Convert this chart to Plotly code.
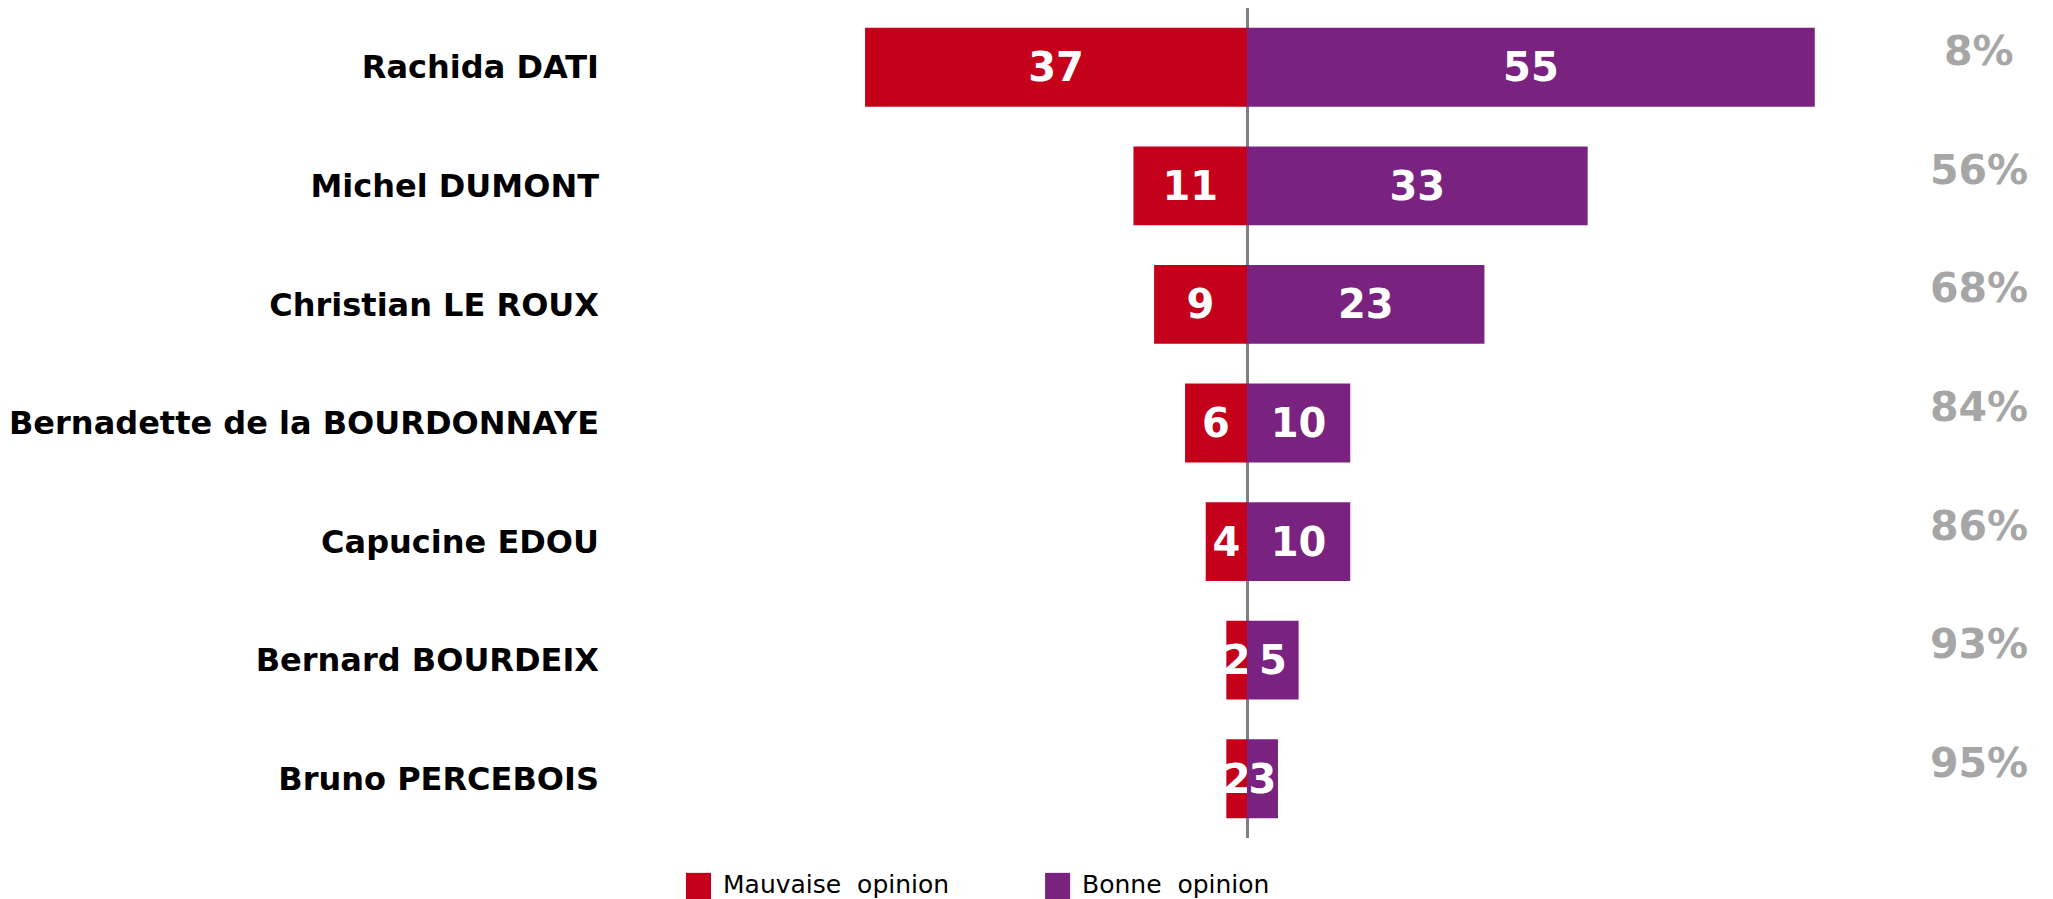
import plotly.graph_objects as go

candidates = ["Rachida DATI", "Michel DUMONT", "Christian LE ROUX",
              "Bernadette de la BOURDONNAYE", "Capucine EDOU",
              "Bernard BOURDEIX", "Bruno PERCEBOIS"]
mauvaise = [37, 11, 9, 6, 4, 2, 2]
bonne = [55, 33, 23, 10, 10, 5, 3]
ne_connait_pas = ["8%", "56%", "68%", "84%", "86%", "93%", "95%"]

RED = "#C5001A"
PURPLE = "#7A2280"
GREY = "#A6A6A6"
FONT = "DejaVu Sans"

fig = go.Figure()
fig.add_trace(go.Bar(
    name="Mauvaise opinion", y=candidates, x=[-v for v in mauvaise],
    orientation="h", marker=dict(color=RED, line=dict(width=0)),
    text=[str(v) for v in mauvaise], textposition="inside",
    insidetextanchor="middle", constraintext="none", textangle=0,
    textfont=dict(family=FONT, size=40, color="white", weight="bold"),
    showlegend=False, hoverinfo="skip"))
fig.add_trace(go.Bar(
    name="Bonne opinion", y=candidates, x=bonne,
    orientation="h", marker=dict(color=PURPLE, line=dict(width=0)),
    text=[str(v) for v in bonne], textposition="inside",
    insidetextanchor="middle", constraintext="none", textangle=0,
    textfont=dict(family=FONT, size=40, color="white", weight="bold"),
    showlegend=False, hoverinfo="skip"))

for cand, pct in zip(candidates, ne_connait_pas):
    fig.add_annotation(x=1.073, xref="paper", y=cand, yref="y", text=pct,
                       showarrow=False, xanchor="center", yanchor="middle",
                       yshift=16,
                       font=dict(family=FONT, size=41, color=GREY, weight="bold"))

# manual legend (large square swatches as in the reference)
legend_items = [("Mauvaise opinion", RED, 0.061), ("Bonne opinion", PURPLE, 0.342)]
for label, color, x0 in legend_items:
    fig.add_shape(type="rect", xref="paper", yref="paper",
                  x0=x0, x1=x0 + 0.0196, y0=-0.0735, y1=-0.042,
                  fillcolor=color, line=dict(width=0))
    fig.add_annotation(x=x0 + 0.0275, xref="paper", y=-0.0566, yref="paper",
                       text=label.replace(" ", "\u00a0 "), showarrow=False,
                       xanchor="left", yanchor="middle",
                       font=dict(family=FONT, size=25, color="black"))

fig.update_layout(
    width=2053, height=899,
    margin=dict(l=600, r=175, t=0, b=69),
    barmode="relative", bargap=0.335,
    plot_bgcolor="white", paper_bgcolor="white",
    xaxis=dict(range=[-61.9, 61.9], showgrid=False, showticklabels=False,
               zeroline=True, zerolinecolor="#808080", zerolinewidth=2.5,
               ticks="", fixedrange=True),
    yaxis=dict(autorange="reversed", showgrid=False, zeroline=False,
               ticks="", ticklabelstandoff=8,
               tickfont=dict(family=FONT, size=32, color="black", weight="bold")),
    uniformtext=dict(mode=False),
)

fig.write_html("out.html")
